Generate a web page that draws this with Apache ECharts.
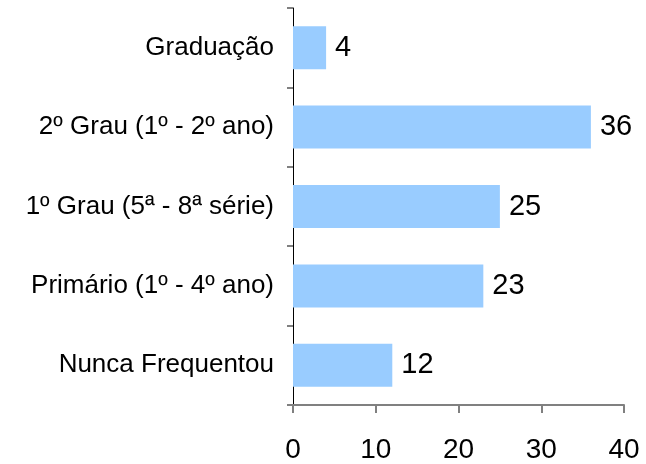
<!DOCTYPE html>
<html>
<head>
<meta charset="utf-8">
<script src="https://cdn.jsdelivr.net/npm/echarts@6/dist/echarts.min.js"></script>
<style>
    html, body { margin: 0; padding: 0; background: #fff; }
    #escolaridade { width: 646px; height: 464px; }
</style>
</head>
<body>
<div id="escolaridade"></div>
<script>
// bottom to top, as on the picture
let categories = ['Nunca Frequentou', 'Primário (1º - 4º ano)', '1º Grau (5ª - 8ª série)', '2º Grau (1º - 2º ano)', 'Graduação'];
let values = [12, 23, 25, 36, 4];
let xTicks = [0, 10, 20, 30, 40];

let myChart = echarts.init(document.getElementById('escolaridade'));

let option = {
    animation: false,
    grid: {
        left: 293,
        right: 22,
        top: 8,
        bottom: 59,
        containLabel: false
    },
    xAxis: {
        type: 'value',
        min: xTicks[0],
        max: xTicks[xTicks.length - 1],
        interval: 10,
        axisLine: {
            show: true,
            lineStyle: { color: '#808080', width: 2 }
        },
        axisTick: {
            show: true,
            length: 8,
            lineStyle: { color: '#808080', width: 2 }
        },
        splitLine: { show: false },
        axisLabel: {
            color: '#000',
            fontFamily: 'Liberation Sans, Arial, sans-serif',
            fontSize: 28,
            margin: 31
        }
    },
    yAxis: {
        type: 'category',
        data: categories,
        axisLine: {
            show: true,
            lineStyle: { color: '#000', width: 1 }
        },
        axisTick: {
            show: true,
            length: 6,
            lineStyle: { color: '#808080', width: 2 }
        },
        axisLabel: {
            color: '#000',
            fontFamily: 'Liberation Sans, Arial, sans-serif',
            fontSize: 26,
            margin: 19
        }
    },
    series: [{
        type: 'bar',
        data: values,
        barWidth: 43,
        itemStyle: { color: '#99CCFF' },
        label: {
            show: true,
            position: 'right',
            distance: 9,
            color: '#000',
            fontFamily: 'Liberation Sans, Arial, sans-serif',
            fontSize: 29
        }
    }]
};
myChart.setOption(option);

window.addEventListener('resize', function () {
    myChart.resize();
});
</script>
</body>
</html>
